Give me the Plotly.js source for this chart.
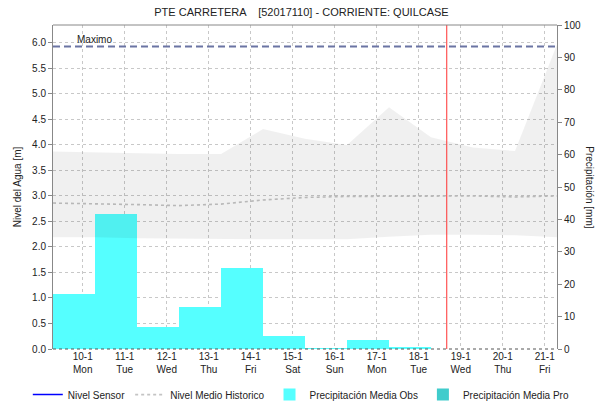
<!DOCTYPE html>
<html>
<head>
<meta charset="utf-8">
<script src="https://cdn.plot.ly/plotly-3.0.1.min.js"></script>
<style>html,body{margin:0;padding:0;background:#fff;}#chart{width:603px;height:404px;}</style>
</head>
<body>
<div id="chart"></div>
<script>
// ---- data ----
const chartTitle = "PTE CARRETERA    [52017110] - CORRIENTE: QUILCASE";
const xRange = ["2022-01-09 07:00", "2022-01-21 07:00"];
const tickDates = ["2022-01-10","2022-01-11","2022-01-12","2022-01-13","2022-01-14","2022-01-15","2022-01-16","2022-01-17","2022-01-18","2022-01-19","2022-01-20","2022-01-21"];
const tickLabels = ["10-1<br>Mon","11-1<br>Tue","12-1<br>Wed","13-1<br>Thu","14-1<br>Fri","15-1<br>Sat","16-1<br>Sun","17-1<br>Mon","18-1<br>Tue","19-1<br>Wed","20-1<br>Thu","21-1<br>Fri"];

// daily precipitation (mm), day starting 07:00
const precipDays = ["2022-01-09 07:00","2022-01-10 07:00","2022-01-11 07:00","2022-01-12 07:00","2022-01-13 07:00","2022-01-14 07:00","2022-01-15 07:00","2022-01-16 07:00","2022-01-17 07:00"];
const precipObs = [17.1, 41.6, 6.9, 13.1, 25.1, 4.1, 0.4, 2.8, 0.7];
// forecast precipitation: no values shown
const precipProDays = ["2022-01-18 07:00"];
const precipPro = [null];

// historical level band (m)
const histDays = ["2022-01-09 07:00","2022-01-10 07:00","2022-01-11 07:00","2022-01-12 07:00","2022-01-13 07:00","2022-01-14 07:00","2022-01-15 07:00","2022-01-16 07:00","2022-01-17 07:00","2022-01-18 07:00","2022-01-19 07:00","2022-01-20 07:00","2022-01-21 07:00"];
const histMax = [3.87, 3.85, 3.84, 3.82, 3.82, 4.31, 4.12, 4.00, 4.74, 4.15, 3.95, 3.88, 5.97];
const histMin = [2.19, 2.19, 2.17, 2.16, 2.15, 2.15, 2.15, 2.15, 2.20, 2.24, 2.24, 2.23, 2.19];
const histMean = [2.86, 2.85, 2.83, 2.81, 2.84, 2.92, 2.97, 2.99, 2.99, 3.00, 3.00, 2.98, 3.00];

// sensor level: no values shown
const sensorTimes = ["2022-01-18 07:00"];
const sensorLevel = [null];

const maxLevel = 5.93;
const maxLabel = "Maximo";
const nowTime = "2022-01-18 16:00";

const FONT = "Liberation Sans, Arial, sans-serif";

const traces = [
  {name: "Nivel Sensor", x: sensorTimes, y: sensorLevel, type: "scatter", mode: "lines",
   line: {color: "#0000ff", width: 1.5}, xaxis: "x", yaxis: "y"},
  {name: "Nivel Medio Historico", x: histDays, y: histMean, type: "scatter", mode: "lines",
   line: {color: "#c4c4c4", width: 1.6, dash: "3px,3px"}, xaxis: "x", yaxis: "y3"},
  {name: "Precipitación Media Obs", x: precipDays, y: precipObs, type: "bar",
   marker: {color: "#55ffff", line: {width: 0}}, width: 86400000, offset: 0,
   xaxis: "x", yaxis: "y2"},
  {name: "Precipitación Media Pro", x: precipProDays, y: precipPro, type: "bar",
   marker: {color: "#40cccc", line: {width: 0}}, width: 86400000, offset: 0,
   xaxis: "x", yaxis: "y2"},
  {name: "min", x: histDays, y: histMin, type: "scatter", mode: "lines",
   line: {width: 0, color: "rgba(0,0,0,0)"}, showlegend: false, hoverinfo: "skip",
   xaxis: "x", yaxis: "y3"},
  {name: "max", x: histDays, y: histMax, type: "scatter", mode: "lines", fill: "tonexty",
   fillcolor: "rgba(0,0,0,0.06)", line: {width: 0, color: "rgba(0,0,0,0)"},
   showlegend: false, hoverinfo: "skip", xaxis: "x", yaxis: "y3"}
];

const layout = {
  width: 603, height: 404,
  margin: {l: 53, r: 46, t: 25, b: 55, autoexpand: false},
  paper_bgcolor: "#ffffff", plot_bgcolor: "#ffffff",
  font: {family: FONT, size: 10, color: "#333"},
  showlegend: true,
  barmode: "overlay",
  bargap: 0,
  title: {text: chartTitle, x: 0.5, xanchor: "center", y: 0.97, yanchor: "middle",
          font: {family: FONT, size: 11, color: "#222"}},
  xaxis: {type: "date", range: xRange, tickvals: tickDates, ticktext: tickLabels,
          showgrid: true, gridcolor: "#c8c8c8", griddash: "dot", gridwidth: 1,
          showline: false, zeroline: false, ticks: "", tickfont: {size: 10, color: "#222"},
          tickangle: 0, automargin: false},
  yaxis: {range: [0, 6.35], dtick: 0.5, tick0: 0, tickformat: ".1f", automargin: false,
          showgrid: true, gridcolor: "#c8c8c8", griddash: "dot", gridwidth: 1,
          zeroline: false, showline: true, linecolor: "#888", linewidth: 1,
          ticks: "outside", ticklen: 4, tickcolor: "#888",
          tickfont: {size: 10, color: "#222"},
          title: {text: "Nivel del Agua [m]", font: {size: 10, color: "#222"}, standoff: 8}},
  yaxis2: {range: [0, 100], dtick: 10, overlaying: "y", side: "right", automargin: false,
           showgrid: false, zeroline: false, showline: true, linecolor: "#888", linewidth: 1,
           ticks: "outside", ticklen: 4, tickcolor: "#888",
           tickfont: {size: 10, color: "#222"}},
  yaxis3: {range: [0, 6.35], overlaying: "y", visible: false, showgrid: false},
  legend: {orientation: "h", x: -0.05, xanchor: "left", y: -0.096, yanchor: "top",
           font: {size: 10, color: "#222"}, bgcolor: "rgba(0,0,0,0)", itemwidth: 30,
           traceorder: "normal"},
  shapes: [
    {type: "line", xref: "paper", x0: 0, x1: 1, yref: "y", y0: maxLevel, y1: maxLevel,
     line: {color: "#6b74a3", width: 2, dash: "7px,4px"}},
    {type: "line", xref: "x", x0: nowTime, x1: nowTime, yref: "paper", y0: 0, y1: 1,
     line: {color: "#ff3030", width: 1}},
    {type: "line", xref: "paper", x0: 0, x1: 1, yref: "paper", y0: 0, y1: 0,
     line: {color: "#555", width: 1, dash: "dot"}},
    {type: "line", xref: "paper", x0: 0, x1: 1, yref: "paper", y0: 1, y1: 1,
     line: {color: "#888", width: 1}}
  ],
  annotations: [
    {text: maxLabel, xref: "paper", x: 0.043, xanchor: "left", yref: "y", y: maxLevel,
     yanchor: "bottom", yshift: -1, showarrow: false, font: {size: 10, color: "#222"}},
    {text: "Precipitación [mm]", xref: "paper", x: 1.065, xanchor: "center",
     yref: "paper", y: 0.5, yanchor: "middle", textangle: 90, showarrow: false,
     font: {size: 10, color: "#222"}}
  ]
};

Plotly.newPlot("chart", traces, layout, {displayModeBar: false, staticPlot: true});
</script>
</body>
</html>
